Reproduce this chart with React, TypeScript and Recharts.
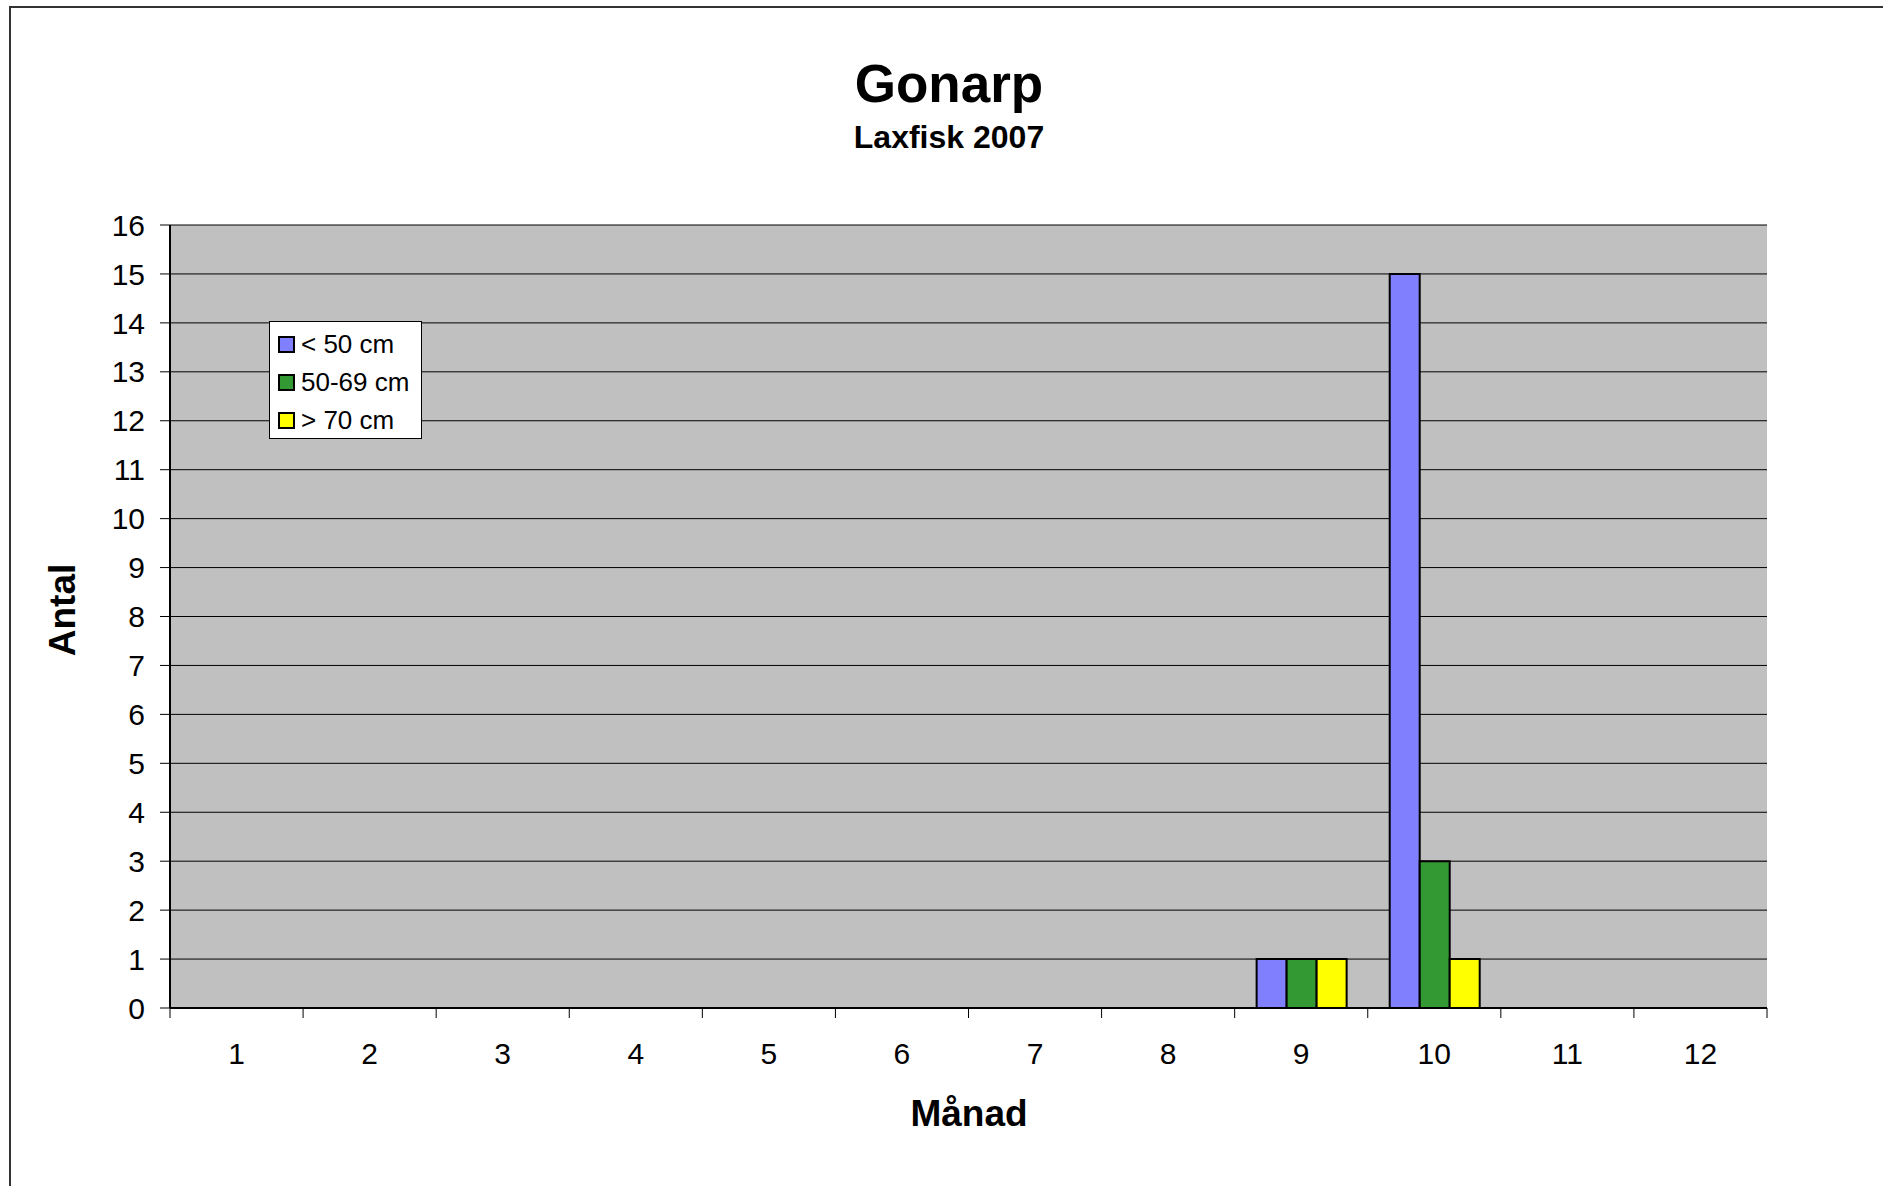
import React from 'react';
import { BarChart, Bar, XAxis, YAxis, CartesianGrid, Legend } from 'recharts';

const months = ['1', '2', '3', '4', '5', '6', '7', '8', '9', '10', '11', '12'];
const seriesNames = ['< 50 cm', '50-69 cm', '> 70 cm'];
const under50 = [0, 0, 0, 0, 0, 0, 0, 0, 1, 15, 0, 0];
const from50to69 = [0, 0, 0, 0, 0, 0, 0, 0, 1, 3, 0, 0];
const over70 = [0, 0, 0, 0, 0, 0, 0, 0, 1, 1, 0, 0];
const yTicks = [0, 1, 2, 3, 4, 5, 6, 7, 8, 9, 10, 11, 12, 13, 14, 15, 16];

const data = months.map((m, i) => ({
  month: m,
  small: under50[i],
  mid: from50to69[i],
  large: over70[i],
}));

const FONT = '"Liberation Sans", Arial, Helvetica, sans-serif';
const TICK_SIZE = 10;
const TICK_MARGIN = 25;

const MonthTick = (props: any) => {
  const { x, y, payload, index } = props;
  const off = payload.offset || 0;
  const axisY = y - TICK_SIZE - TICK_MARGIN;
  return (
    <g>
      <line x1={x - off} x2={x - off} y1={axisY} y2={axisY + TICK_SIZE} stroke="#000" strokeWidth={1} />
      {index === months.length - 1 && (
        <line x1={x + off} x2={x + off} y1={axisY} y2={axisY + TICK_SIZE} stroke="#000" strokeWidth={1} />
      )}
      <text x={x} y={y} dy="0.71em" textAnchor="middle" fill="#000" fontSize={30} fontFamily={FONT}>
        {payload.value}
      </text>
    </g>
  );
};

const LegendBox = ({ payload }: any) => {
  const items = [...(payload || [])].sort(
    (a: any, b: any) => seriesNames.indexOf(a.value) - seriesNames.indexOf(b.value)
  );
  return (
    <div
      style={{
        boxSizing: 'border-box',
        width: 153,
        height: 118,
        background: '#fff',
        border: '1px solid #000',
        paddingTop: 3,
        paddingLeft: 8,
        fontFamily: FONT,
        fontSize: 26,
        color: '#000',
      }}
    >
      {items.map((p: any) => (
        <div key={p.value} style={{ display: 'flex', alignItems: 'center', height: 38 }}>
          <span
            style={{
              boxSizing: 'border-box',
              width: 17,
              height: 17,
              background: p.color,
              border: '2px solid #000',
              marginRight: 6,
            }}
          />
          <span style={{ lineHeight: 1 }}>{p.value}</span>
        </div>
      ))}
    </div>
  );
};

export default function App() {
  return (
    <div style={{ position: 'absolute', left: 0, top: 0, width: 1883, height: 1186, background: '#fff', overflow: 'hidden', fontFamily: FONT }}>
      <div
        style={{
          position: 'absolute',
          left: 9,
          top: 6,
          width: 1900,
          height: 1300,
          borderLeft: '2px solid #333',
          borderTop: '2px solid #333',
        }}
      />
      <div style={{ position: 'absolute', left: 0, top: 0 }}>
        <BarChart
          width={1883}
          height={1186}
          data={data}
          margin={{ top: 225, right: 116, bottom: 118, left: 70 }}
          barCategoryGap="16.5%"
          barGap={0}
        >
          <CartesianGrid vertical={false} stroke="#000" strokeWidth={1} fill="#C0C0C0" fillOpacity={1} />
          <XAxis
            xAxisId="top"
            orientation="top"
            dataKey="month"
            height={0}
            tick={false}
            tickLine={false}
            axisLine={{ stroke: '#808080', strokeWidth: 3 }}
          />
          <XAxis
            dataKey="month"
            height={60}
            tickLine={false}
            tickSize={TICK_SIZE}
            tickMargin={TICK_MARGIN}
            interval={0}
            tick={<MonthTick />}
            axisLine={{ stroke: '#000', strokeWidth: 2 }}
          />
          <YAxis
            width={100}
            domain={[0, 16]}
            ticks={yTicks}
            interval={0}
            tickSize={TICK_SIZE}
            tickMargin={15}
            tickLine={{ stroke: '#000' }}
            axisLine={{ stroke: '#000', strokeWidth: 2 }}
            tick={{ fill: '#000', fontSize: 30, fontFamily: FONT }}
          />
          <YAxis
            yAxisId="right"
            orientation="right"
            width={0}
            domain={[0, 16]}
            tick={false}
            tickLine={false}
            axisLine={{ stroke: '#808080', strokeWidth: 3 }}
          />
          <Legend
            layout="vertical"
            align="center"
            verticalAlign="middle"
            content={<LegendBox />}
            wrapperStyle={{ left: 269, top: 321, width: 153, height: 118 }}
          />
          <Bar dataKey="small" name={seriesNames[0]} fill="#8080FF" stroke="#000" strokeWidth={2} isAnimationActive={false} />
          <Bar dataKey="mid" name={seriesNames[1]} fill="#339933" stroke="#000" strokeWidth={2} isAnimationActive={false} />
          <Bar dataKey="large" name={seriesNames[2]} fill="#FFFF00" stroke="#000" strokeWidth={2} isAnimationActive={false} />
        </BarChart>
      </div>
      <div style={{ position: 'absolute', left: 749, width: 400, top: 57, textAlign: 'center', fontSize: 53, fontWeight: 'bold', lineHeight: 1 }}>
        Gonarp
      </div>
      <div style={{ position: 'absolute', left: 749, width: 400, top: 121, textAlign: 'center', fontSize: 32, fontWeight: 'bold', lineHeight: 1 }}>
        Laxfisk 2007
      </div>
      <div style={{ position: 'absolute', left: 769, width: 400, top: 1095, textAlign: 'center', fontSize: 37, fontWeight: 'bold', lineHeight: 1 }}>
        Månad
      </div>
      <div
        style={{
          position: 'absolute',
          left: 62,
          top: 610,
          transform: 'translate(-50%, -50%) rotate(-90deg)',
          fontSize: 37,
          fontWeight: 'bold',
          lineHeight: 1,
          whiteSpace: 'nowrap',
        }}
      >
        Antal
      </div>
    </div>
  );
}
